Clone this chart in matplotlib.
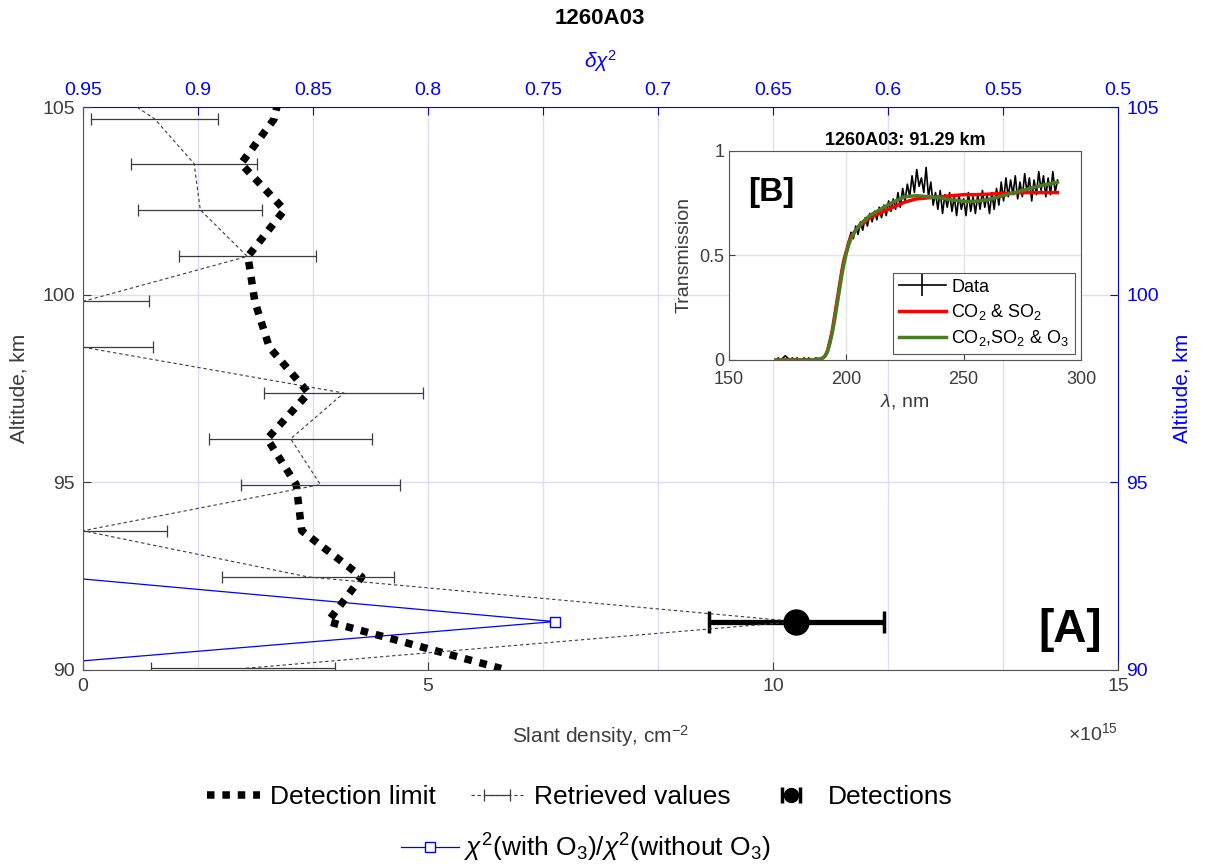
import numpy as np
import matplotlib.pyplot as plt
from matplotlib.lines import Line2D
from matplotlib.legend_handler import HandlerErrorbar

plt.rcParams['font.family'] = ['Liberation Sans', 'DejaVu Sans']
plt.rcParams['mathtext.fontset'] = 'custom'
plt.rcParams['mathtext.rm'] = 'Liberation Sans'
plt.rcParams['mathtext.it'] = 'Liberation Sans:italic'
plt.rcParams['mathtext.bf'] = 'Liberation Sans:bold'

# retrieval altitude grid, km
altitude = [105.90, 104.68, 103.49, 102.26, 101.02, 99.82, 98.60,
            97.38, 96.16, 94.94, 93.71, 92.48, 91.29, 90.04]
detection_limit = [2.92, 2.77, 2.29, 2.92, 2.39, 2.49, 2.70,
                   3.27, 2.67, 3.09, 3.17, 4.04, 3.55, 6.06]
retrieved = [0.05, 1.04, 1.61, 1.70, 2.38, 0.0, 0.0,
             3.78, 3.01, 3.44, 0.0, 3.26, 10.34, 2.32]
retrieved_err = [0.90, 0.92, 0.91, 0.90, 0.99, 0.96, 1.01,
                 1.15, 1.18, 1.15, 1.22, 1.24, 1.27, 1.33]

det_alt = [91.29]
det_val = [10.34]
det_err = [1.27]

chi_alt = [92.48, 91.29, 90.04]
chi_ratio = [0.96, 0.745, 0.99]

# inset spectrum at 91.29 km
wl = list(range(170, 291))
trans = [0.00, 0.01, 0.00, 0.01, 0.02, 0.01, 0.00, 0.01, 0.00, 0.01,
         0.00, 0.00, 0.01, 0.00, 0.01, 0.00, 0.00, 0.01, 0.00, 0.00,
         0.01, 0.02, 0.05, 0.10, 0.15, 0.22, 0.29, 0.36, 0.43, 0.48,
         0.52, 0.57, 0.61, 0.58, 0.64, 0.60, 0.66, 0.62, 0.68, 0.64,
         0.70, 0.66, 0.71, 0.67, 0.73, 0.68, 0.74, 0.69, 0.76, 0.71,
         0.77, 0.72, 0.80, 0.73, 0.82, 0.76, 0.84, 0.78, 0.88, 0.80,
         0.91, 0.83, 0.87, 0.80, 0.92, 0.78, 0.85, 0.74, 0.80, 0.72,
         0.81, 0.70, 0.79, 0.73, 0.80, 0.71, 0.78, 0.69, 0.79, 0.72,
         0.77, 0.69, 0.80, 0.71, 0.78, 0.70, 0.79, 0.72, 0.81, 0.73,
         0.79, 0.70, 0.80, 0.72, 0.82, 0.74, 0.85, 0.76, 0.87, 0.78,
         0.86, 0.79, 0.88, 0.77, 0.85, 0.78, 0.89, 0.80, 0.87, 0.76,
         0.86, 0.79, 0.90, 0.81, 0.88, 0.78, 0.87, 0.79, 0.90, 0.80, 0.86]
fit_wl = [170, 185, 189, 190, 191, 192, 193, 194, 195, 196, 197, 198, 199, 200,
          201, 202, 204, 206, 208, 210, 213, 216, 220, 225, 230, 235, 240, 245,
          250, 255, 260, 265, 270, 275, 280, 285, 290]
fit_co2_so2 = [0.00, 0.00, 0.005, 0.01, 0.02, 0.045, 0.09, 0.14, 0.21, 0.28, 0.35,
               0.42, 0.48, 0.52, 0.56, 0.59, 0.62, 0.645, 0.66, 0.68, 0.695, 0.71,
               0.73, 0.755, 0.77, 0.775, 0.78, 0.785, 0.79, 0.79, 0.792, 0.795,
               0.797, 0.80, 0.80, 0.80, 0.80]
fit_co2_so2_o3 = [0.00, 0.00, 0.005, 0.01, 0.02, 0.04, 0.08, 0.13, 0.19, 0.26, 0.33,
                  0.40, 0.46, 0.51, 0.55, 0.58, 0.62, 0.65, 0.67, 0.69, 0.71, 0.73,
                  0.755, 0.78, 0.785, 0.78, 0.775, 0.765, 0.758, 0.758, 0.765, 0.78,
                  0.795, 0.81, 0.825, 0.838, 0.85]

grey = '#3c3c3c'
gridblue = '#dcdcf5'

fig = plt.figure(figsize=(12.08, 8.68), dpi=100)
ax = fig.add_axes([83/1208, 1-670/868, 1035/1208, 563/868])
ax_top = ax.twiny()
ax_right = ax.twinx()
ax.set_zorder(3)
ax.patch.set_visible(False)
ax_top.set_zorder(2)
ax_top.patch.set_visible(False)
ax_right.set_zorder(1)
ax_right.patch.set_visible(False)

# main axes
ax.set_xlim(0, 15)
ax.set_ylim(90, 105)
ax.set_xticks([0, 5, 10, 15])
ax.set_yticks([90, 95, 100, 105])
ax.tick_params(direction='in', length=6, labelsize=14, colors=grey, pad=6)
for s in ['top', 'right']:
    ax.spines[s].set_visible(False)
for s in ['left', 'bottom']:
    ax.spines[s].set_color('#555555')
ax.set_xlabel('Slant density, cm$^{-2}$', fontsize=15, color=grey, labelpad=20)
ax.set_ylabel('Altitude, km', fontsize=15, color=grey, labelpad=10)

# top axis: delta chi2
ax_top.set_xlim(0.95, 0.5)
top_ticks = [0.95, 0.9, 0.85, 0.8, 0.75, 0.7, 0.65, 0.6, 0.55, 0.5]
ax_top.set_xticks(top_ticks)
ax_top.set_xticklabels([f'{t:g}' for t in top_ticks])
ax_top.tick_params(direction='in', length=6, labelsize=14, colors='blue', pad=6)
ax_top.grid(axis='x', color=gridblue, lw=1)
for s in ['left', 'right', 'bottom']:
    ax_top.spines[s].set_visible(False)
ax_top.spines['top'].set_color('blue')
ax_top.set_xlabel(r'$\delta\chi^2$', fontsize=15, color='blue', labelpad=10)

# right axis: altitude
ax_right.set_ylim(90, 105)
ax_right.set_yticks([90, 95, 100, 105])
ax_right.tick_params(direction='in', length=6, labelsize=14, colors='blue', pad=6)
ax_right.grid(axis='y', color=gridblue, lw=1)
for s in ['left', 'top', 'bottom']:
    ax_right.spines[s].set_visible(False)
ax_right.spines['right'].set_color('blue')
ax_right.set_ylabel('Altitude, km', fontsize=15, color='blue', labelpad=10)

chi_line, = ax_top.plot(chi_ratio, chi_alt, color='blue', lw=0.9, marker='s', ms=6.5,
                        mfc='white', mec='blue', mew=1)

dl_line, = ax.plot(detection_limit, altitude, color='k', lw=5.4,
                   ls=(0, (1, 1.05)), dash_capstyle='butt')
ret_eb = ax.errorbar(retrieved, altitude, xerr=retrieved_err, color=grey, ls=(0, (3, 2.5)),
                     lw=0.8, ecolor=grey, elinewidth=0.9, capsize=4, capthick=0.9)
det_eb = ax.errorbar(det_val, det_alt, xerr=det_err, fmt='o', color='k', ms=18,
                     elinewidth=3.8, capsize=8, capthick=2.5)


def small_detection(h, orig):
    # legend symbol of the detections is drawn smaller than on the plot
    h.update_from(orig)
    if isinstance(h, Line2D):
        if h.get_marker() == 'o':
            h.set_markersize(10)
        else:
            h.set_markersize(11)
    else:
        h.set_linewidth(3.2)


fig.text(1102/1208, 1-630/868, '[A]', ha='right', va='center', fontsize=33,
         fontweight='bold')
fig.text(600/1208, 1-18/868, '1260A03', ha='center', va='center', fontsize=16,
         fontweight='bold')
fig.text(1118/1208, 1-733/868, r'$\times$10$^{15}$', ha='right', va='center',
         fontsize=14, color=grey)

# inset
axin = fig.add_axes([729/1208, 1-360/868, 352/1208, 209.3/868])
axin.set_zorder(5)
axin.plot(wl, trans, color='k', lw=1.2)
axin.plot(fit_wl, fit_co2_so2, color='red', lw=2.5)
axin.plot(fit_wl, fit_co2_so2_o3, color='#4a7d20', lw=2.5)
axin.set_xlim(150, 300)
axin.set_ylim(0, 1)
axin.set_xticks([150, 200, 250, 300])
axin.set_yticks([0, 0.5, 1])
axin.set_yticklabels(['0', '0.5', '1'])
axin.tick_params(direction='in', length=4, labelsize=13, colors=grey)
axin.tick_params(axis='x', pad=8)
axin.grid(color='#e4e4e4', lw=1)
for s in axin.spines.values():
    s.set_color('#555555')
axin.set_xlabel(r'$\lambda$, nm', fontsize=14, color=grey, labelpad=3)
axin.set_ylabel('Transmission', fontsize=14, color=grey, labelpad=5)
axin.set_title('1260A03: 91.29 km', fontsize=13, fontweight='bold', pad=4)
hd = Line2D([], [], color='k', lw=1.2, marker='|', ms=16, mew=1.2)
hr = Line2D([], [], color='red', lw=2.5)
hg = Line2D([], [], color='#4a7d20', lw=2.5)
lin = axin.legend([hd, hr, hg], ['Data', 'CO$_2$ & SO$_2$', 'CO$_2$,SO$_2$ & O$_3$'],
                  loc='lower right', fontsize=13, fancybox=False, edgecolor='#555555',
                  framealpha=1, handlelength=2.6, handletextpad=0.3,
                  borderaxespad=0.35, labelspacing=0.35, borderpad=0.3)
lin.get_frame().set_linewidth(0.8)
fig.text(748/1208, 1-193/868, '[B]', ha='left', va='center', fontsize=24,
         fontweight='bold', zorder=10)

# bottom legends
fig.legend([dl_line, ret_eb, det_eb], ['Detection limit', 'Retrieved values', 'Detections'],
           loc='center', bbox_to_anchor=(580/1208, 1-797/868), ncol=3, frameon=False,
           fontsize=19, handlelength=2.0, columnspacing=1.3, handletextpad=0.4,
           handler_map={det_eb: HandlerErrorbar(xerr_size=0.35,
                                                update_func=small_detection)})
fig.legend([chi_line], [r'$\chi^2$(with O$_3$)/$\chi^2$(without O$_3$)'],
           loc='center', bbox_to_anchor=(586/1208, 1-848/868), frameon=False,
           fontsize=19, handlelength=2.2, handletextpad=0.2)

fig.savefig('out.png', dpi=100)
